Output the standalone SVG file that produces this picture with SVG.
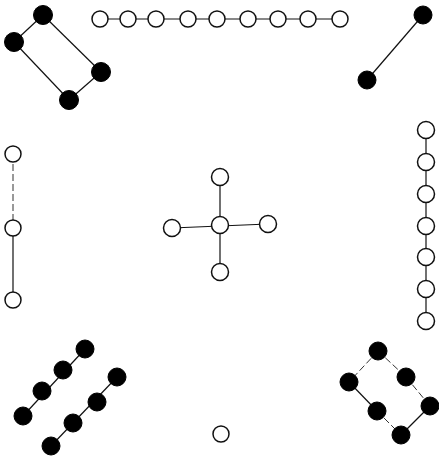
<svg xmlns="http://www.w3.org/2000/svg" width="439" height="457" viewBox="0 0 439 457">
<style>
.e{stroke:#111;stroke-width:1.2;fill:none}
.f{stroke:#333;stroke-width:1;fill:none;stroke-dasharray:7 3}
.o{fill:#fff;stroke:#111;stroke-width:1.5}
.b{fill:#000;stroke:#000;stroke-width:1}
</style>
<rect width="439" height="457" fill="#fff"/>
<g id="connectors">
<line class="e" x1="43" y1="15" x2="14" y2="42"/>
<line class="e" x1="14" y1="42" x2="69" y2="100"/>
<line class="e" x1="43" y1="15" x2="101" y2="72"/>
<line class="e" x1="101" y1="72" x2="69" y2="100"/>
<line class="e" x1="100" y1="19" x2="341" y2="19"/>
<line class="e" x1="423" y1="15" x2="367" y2="80"/>
<line class="f" x1="13" y1="154" x2="13" y2="228"/>
<line class="e" x1="13" y1="228" x2="13" y2="300"/>
<line class="e" x1="220" y1="177" x2="220" y2="272"/>
<line class="e" x1="172" y1="228" x2="268" y2="224"/>
<line class="e" x1="426" y1="130" x2="426" y2="321"/>
<line class="e" x1="85" y1="349" x2="23" y2="416"/>
<line class="e" x1="117" y1="377" x2="51" y2="446"/>
<line class="f" x1="378" y1="351" x2="406" y2="377"/>
<line class="f" x1="378" y1="351" x2="349" y2="382"/>
<line class="e" x1="349" y1="382" x2="377" y2="411"/>
<line class="f" x1="377" y1="411" x2="401" y2="435"/>
<line class="e" x1="401" y1="435" x2="430" y2="406"/>
<line class="f" x1="406" y1="377" x2="430" y2="406"/>
</g>
<g id="ring-top-left">
<circle class="b" cx="43" cy="15" r="9.5"/>
<circle class="b" cx="14" cy="42" r="9.5"/>
<circle class="b" cx="101" cy="72" r="9.5"/>
<circle class="b" cx="69" cy="100" r="9.5"/>
</g>
<g id="chain-top">
<circle class="o" cx="100" cy="19" r="8"/>
<circle class="o" cx="128" cy="19" r="8"/>
<circle class="o" cx="156" cy="19" r="8"/>
<circle class="o" cx="188" cy="19" r="8"/>
<circle class="o" cx="217" cy="19" r="8"/>
<circle class="o" cx="248" cy="19" r="8"/>
<circle class="o" cx="278" cy="19" r="8"/>
<circle class="o" cx="308" cy="19" r="8"/>
<circle class="o" cx="340" cy="19" r="8"/>
</g>
<g id="pair-top-right">
<circle class="b" cx="423" cy="15" r="9"/>
<circle class="b" cx="367" cy="80" r="9"/>
</g>
<g id="chain-left">
<circle class="o" cx="13" cy="154" r="8"/>
<circle class="o" cx="13" cy="228" r="8"/>
<circle class="o" cx="13" cy="300" r="8"/>
</g>
<g id="star-center">
<circle class="o" cx="220" cy="225" r="8.5"/>
<circle class="o" cx="220" cy="177" r="8.5"/>
<circle class="o" cx="172" cy="228" r="8.5"/>
<circle class="o" cx="268" cy="224" r="8.5"/>
<circle class="o" cx="220" cy="272" r="8.5"/>
</g>
<g id="chain-right">
<circle class="o" cx="426" cy="130" r="8.5"/>
<circle class="o" cx="426" cy="162" r="8.5"/>
<circle class="o" cx="426" cy="194" r="8.5"/>
<circle class="o" cx="426" cy="226" r="8.5"/>
<circle class="o" cx="426" cy="257" r="8.5"/>
<circle class="o" cx="426" cy="289" r="8.5"/>
<circle class="o" cx="426" cy="321" r="8.5"/>
</g>
<g id="chains-bottom-left">
<circle class="b" cx="85" cy="349" r="9"/>
<circle class="b" cx="63" cy="370" r="9"/>
<circle class="b" cx="42" cy="391" r="9"/>
<circle class="b" cx="23" cy="416" r="9"/>
<circle class="b" cx="117" cy="377" r="9"/>
<circle class="b" cx="97" cy="402" r="9"/>
<circle class="b" cx="73" cy="423" r="9"/>
<circle class="b" cx="51" cy="446" r="9"/>
</g>
<g id="ring-bottom-right">
<circle class="b" cx="378" cy="351" r="9"/>
<circle class="b" cx="406" cy="377" r="9"/>
<circle class="b" cx="349" cy="382" r="9"/>
<circle class="b" cx="377" cy="411" r="9"/>
<circle class="b" cx="430" cy="406" r="9"/>
<circle class="b" cx="401" cy="435" r="9"/>
</g>
<g id="single-bottom">
<circle class="o" cx="221" cy="434" r="8"/>
</g>
</svg>
